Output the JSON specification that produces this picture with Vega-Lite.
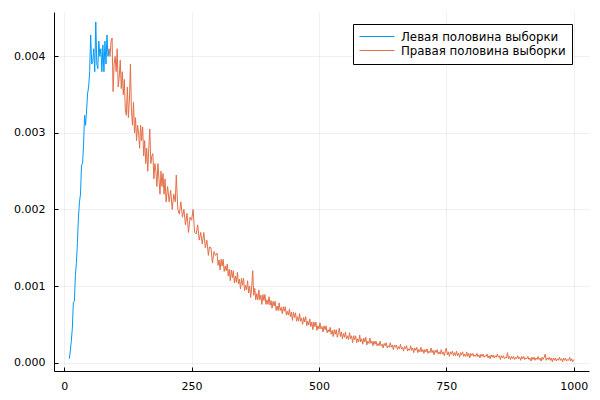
{
  "$schema": "https://vega.github.io/schema/vega-lite/v6.json",
  "autosize": {"type": "none"},
  "width": 535,
  "height": 359,
  "padding": {"left": 54, "top": 12, "right": 11, "bottom": 29},
  "background": "white",
  "config": {
    "view": {"stroke": null},
    "font": "DejaVu Sans",
    "axis": {
      "domainColor": "#000", "domainWidth": 1,
      "tickColor": "#000", "tickSize": -4, "tickWidth": 1,
      "gridColor": "#000", "gridOpacity": 0.1, "gridWidth": 0.6,
      "labelFont": "DejaVu Sans", "labelFontSize": 11, "labelColor": "#000",
      "labelPadding": 13, "title": null
    }
  },
  "datasets": {
    "left": [
      {"x":10,"y":0.00005},{"x":12,"y":0.00015},{"x":14,"y":0.00028},{"x":16,"y":0.00045},{"x":18,"y":0.00079},{"x":20,"y":0.0008},
      {"x":22,"y":0.00114},{"x":24,"y":0.00131},{"x":26,"y":0.00157},{"x":28,"y":0.0019},{"x":30,"y":0.0021},{"x":32,"y":0.0022},
      {"x":34,"y":0.00258},{"x":36,"y":0.0026},{"x":38,"y":0.00284},{"x":40,"y":0.00323},{"x":42,"y":0.0031},{"x":44,"y":0.0033},
      {"x":46,"y":0.00352},{"x":48,"y":0.0036},{"x":50,"y":0.0038},{"x":52,"y":0.00428},{"x":54,"y":0.0039},{"x":56,"y":0.00393},
      {"x":58,"y":0.0041},{"x":60,"y":0.0038},{"x":62,"y":0.00445},{"x":64,"y":0.0039},{"x":66,"y":0.00384},{"x":68,"y":0.0042},
      {"x":70,"y":0.004},{"x":72,"y":0.0041},{"x":74,"y":0.0038},{"x":76,"y":0.00415},{"x":78,"y":0.0038},{"x":80,"y":0.0042},
      {"x":82,"y":0.0039},{"x":84,"y":0.00428},{"x":86,"y":0.004},{"x":88,"y":0.0041}
    ],
    "right": [
      {"x":88,"y":0.0041},{"x":90,"y":0.004},{"x":92,"y":0.0042},{"x":94,"y":0.00424},{"x":96,"y":0.00354},{"x":98,"y":0.0039},
      {"x":100,"y":0.004},{"x":102,"y":0.0038},{"x":104,"y":0.0041},{"x":106,"y":0.0036},{"x":108,"y":0.00373},{"x":110,"y":0.00395},
      {"x":112,"y":0.00358},{"x":114,"y":0.0038},{"x":116,"y":0.0035},{"x":118,"y":0.0037},{"x":120,"y":0.0033},{"x":122,"y":0.00323},
      {"x":124,"y":0.0036},{"x":126,"y":0.0032},{"x":128,"y":0.00343},{"x":130,"y":0.0039},{"x":132,"y":0.0033},{"x":134,"y":0.0031},
      {"x":136,"y":0.0034},{"x":138,"y":0.003},{"x":140,"y":0.0032},{"x":142,"y":0.0029},{"x":144,"y":0.0031},{"x":146,"y":0.003},
      {"x":148,"y":0.0028},{"x":150,"y":0.0031},{"x":152,"y":0.0029},{"x":154,"y":0.00308},{"x":156,"y":0.0027},{"x":158,"y":0.0029},
      {"x":160,"y":0.0026},{"x":162,"y":0.0028},{"x":164,"y":0.0025},{"x":166,"y":0.0028},{"x":168,"y":0.00305},{"x":170,"y":0.0026},
      {"x":172,"y":0.0027},{"x":174,"y":0.00273},{"x":176,"y":0.0024},{"x":178,"y":0.0026},{"x":180,"y":0.0025},{"x":182,"y":0.0023},
      {"x":184,"y":0.0026},{"x":186,"y":0.0024},{"x":188,"y":0.0022},{"x":190,"y":0.0025},{"x":192,"y":0.0023},{"x":194,"y":0.00247},
      {"x":196,"y":0.0022},{"x":198,"y":0.0024},{"x":200,"y":0.0021},{"x":203,"y":0.0023},{"x":206,"y":0.0021},{"x":209,"y":0.00225},
      {"x":212,"y":0.002},{"x":215,"y":0.0022},{"x":218,"y":0.0021},{"x":220,"y":0.00245},{"x":223,"y":0.002},{"x":226,"y":0.00194},
      {"x":229,"y":0.0021},{"x":232,"y":0.0019},{"x":235,"y":0.002},{"x":238,"y":0.0018},{"x":241,"y":0.00195},{"x":244,"y":0.0017},
      {"x":247,"y":0.0019},{"x":250,"y":0.00186},{"x":253,"y":0.002},{"x":256,"y":0.0017},{"x":259,"y":0.00168},{"x":262,"y":0.0018},
      {"x":265,"y":0.0016},{"x":268,"y":0.0017},{"x":271,"y":0.00155},{"x":274,"y":0.0017},{"x":277,"y":0.0015},{"x":280,"y":0.0016},
      {"x":283,"y":0.0014},{"x":285,"y":0.00151},{"x":288,"y":0.0015},{"x":291,"y":0.0013},{"x":294,"y":0.00145},{"x":297,"y":0.0014},
      {"x":300,"y":0.00143},{"x":302,"y":0.00127},{"x":304,"y":0.00134},{"x":306,"y":0.00121},{"x":308,"y":0.00135},{"x":310,"y":0.00126},
      {"x":312,"y":0.00135},{"x":314,"y":0.00119},{"x":316,"y":0.00126},{"x":318,"y":0.0012},{"x":320,"y":0.00129},{"x":322,"y":0.00113},
      {"x":324,"y":0.00122},{"x":326,"y":0.00107},{"x":328,"y":0.00121},{"x":330,"y":0.00111},{"x":332,"y":0.0012},{"x":334,"y":0.00104},
      {"x":336,"y":0.00113},{"x":338,"y":0.00105},{"x":340,"y":0.00118},{"x":342,"y":0.00103},{"x":344,"y":0.00109},{"x":346,"y":0.00096},
      {"x":348,"y":0.0011},{"x":350,"y":0.00101},{"x":352,"y":0.0011},{"x":354,"y":0.00094},{"x":356,"y":0.00101},{"x":358,"y":0.00095},
      {"x":360,"y":0.00107},{"x":362,"y":0.00091},{"x":364,"y":0.001},{"x":366,"y":0.00085},{"x":368,"y":0.00099},{"x":370,"y":0.0012},
      {"x":372,"y":0.00088},{"x":374,"y":0.00097},{"x":376,"y":0.00082},{"x":378,"y":0.0009},{"x":380,"y":0.00082},{"x":382,"y":0.00095},
      {"x":384,"y":0.00082},{"x":386,"y":0.00088},{"x":388,"y":0.00076},{"x":390,"y":0.00089},{"x":392,"y":0.00081},{"x":394,"y":0.00089},
      {"x":396,"y":0.00076},{"x":398,"y":0.00082},{"x":400,"y":0.00076},{"x":402,"y":0.00086},{"x":404,"y":0.00075},{"x":406,"y":0.00081},
      {"x":408,"y":0.00071},{"x":410,"y":0.0008},{"x":412,"y":0.00074},{"x":414,"y":0.0008},{"x":416,"y":0.00068},{"x":418,"y":0.00074},
      {"x":420,"y":0.00068},{"x":422,"y":0.00078},{"x":424,"y":0.00068},{"x":426,"y":0.00072},{"x":428,"y":0.00064},{"x":430,"y":0.00073},
      {"x":432,"y":0.00067},{"x":434,"y":0.00073},{"x":436,"y":0.00062},{"x":438,"y":0.00067},{"x":440,"y":0.00062},{"x":442,"y":0.0007},
      {"x":444,"y":0.0006},{"x":446,"y":0.00066},{"x":448,"y":0.00055},{"x":450,"y":0.00066},{"x":452,"y":0.00059},{"x":454,"y":0.00065},
      {"x":456,"y":0.00054},{"x":458,"y":0.0006},{"x":460,"y":0.00054},{"x":462,"y":0.00064},{"x":464,"y":0.00054},{"x":466,"y":0.00058},
      {"x":468,"y":0.0005},{"x":470,"y":0.00059},{"x":472,"y":0.00053},{"x":474,"y":0.0006},{"x":476,"y":0.00048},{"x":478,"y":0.00054},
      {"x":480,"y":0.00049},{"x":482,"y":0.00057},{"x":484,"y":0.00047},{"x":486,"y":0.00053},{"x":488,"y":0.00043},{"x":490,"y":0.00053},
      {"x":492,"y":0.00047},{"x":494,"y":0.00053},{"x":496,"y":0.00042},{"x":498,"y":0.00048},{"x":500,"y":0.00044},{"x":502,"y":0.00052},
      {"x":504,"y":0.00044},{"x":506,"y":0.00047},{"x":508,"y":0.0004},{"x":510,"y":0.00048},{"x":512,"y":0.00043},{"x":514,"y":0.00048},
      {"x":516,"y":0.00039},{"x":518,"y":0.00043},{"x":520,"y":0.0004},{"x":522,"y":0.00046},{"x":524,"y":0.00037},{"x":526,"y":0.00042},
      {"x":528,"y":0.00034},{"x":530,"y":0.00043},{"x":532,"y":0.00037},{"x":534,"y":0.00043},{"x":536,"y":0.00033},{"x":538,"y":0.00039},
      {"x":540,"y":0.00045},{"x":542,"y":0.00034},{"x":544,"y":0.0004},{"x":546,"y":0.00031},{"x":548,"y":0.00038},{"x":550,"y":0.00033},
      {"x":552,"y":0.0004},{"x":554,"y":0.00031},{"x":556,"y":0.00035},{"x":558,"y":0.0003},{"x":560,"y":0.00039},{"x":562,"y":0.00031},
      {"x":564,"y":0.00035},{"x":566,"y":0.00026},{"x":568,"y":0.00035},{"x":570,"y":0.0003},{"x":572,"y":0.00035},{"x":574,"y":0.00026},
      {"x":576,"y":0.00031},{"x":578,"y":0.00027},{"x":580,"y":0.00036},{"x":582,"y":0.00027},{"x":584,"y":0.00031},{"x":586,"y":0.00024},
      {"x":588,"y":0.00032},{"x":590,"y":0.00027},{"x":592,"y":0.00033},{"x":594,"y":0.00023},{"x":596,"y":0.00028},{"x":598,"y":0.00025},
      {"x":600,"y":0.00032},{"x":602,"y":0.00025},{"x":604,"y":0.00028},{"x":606,"y":0.00022},{"x":608,"y":0.00028},{"x":610,"y":0.00024},
      {"x":612,"y":0.00028},{"x":614,"y":0.00022},{"x":616,"y":0.00025},{"x":618,"y":0.00022},{"x":620,"y":0.00028},{"x":622,"y":0.00022},
      {"x":624,"y":0.00024},{"x":626,"y":0.00019},{"x":628,"y":0.00025},{"x":630,"y":0.00022},{"x":632,"y":0.00026},{"x":634,"y":0.00019},
      {"x":636,"y":0.00022},{"x":638,"y":0.0002},{"x":640,"y":0.00026},{"x":642,"y":0.0002},{"x":644,"y":0.00023},{"x":646,"y":0.00017},
      {"x":648,"y":0.00023},{"x":650,"y":0.0002},{"x":652,"y":0.00023},{"x":654,"y":0.00017},{"x":656,"y":0.00021},{"x":658,"y":0.00018},
      {"x":660,"y":0.00024},{"x":662,"y":0.00018},{"x":664,"y":0.0002},{"x":666,"y":0.00015},{"x":668,"y":0.00021},{"x":670,"y":0.00018},
      {"x":672,"y":0.00022},{"x":674,"y":0.00015},{"x":676,"y":0.00018},{"x":678,"y":0.00016},{"x":680,"y":0.00022},{"x":682,"y":0.00016},
      {"x":684,"y":0.00019},{"x":686,"y":0.00013},{"x":688,"y":0.00019},{"x":690,"y":0.00016},{"x":692,"y":0.0002},{"x":694,"y":0.00013},
      {"x":696,"y":0.00017},{"x":698,"y":0.00014},{"x":700,"y":0.0002},{"x":702,"y":0.00014},{"x":704,"y":0.00017},{"x":706,"y":0.00012},
      {"x":708,"y":0.00017},{"x":710,"y":0.00014},{"x":712,"y":0.00018},{"x":714,"y":0.00012},{"x":716,"y":0.00015},{"x":718,"y":0.00013},
      {"x":720,"y":0.00019},{"x":722,"y":0.00013},{"x":724,"y":0.00016},{"x":726,"y":0.0001},{"x":728,"y":0.00016},{"x":730,"y":0.00013},
      {"x":732,"y":0.00017},{"x":734,"y":0.00011},{"x":736,"y":0.00014},{"x":738,"y":0.00011},{"x":740,"y":0.00017},{"x":742,"y":0.00011},
      {"x":744,"y":0.00014},{"x":746,"y":0.00009},{"x":748,"y":0.00015},{"x":750,"y":0.00019},{"x":752,"y":0.0001},{"x":754,"y":0.00014},
      {"x":756,"y":0.00008},{"x":758,"y":0.00014},{"x":760,"y":0.00011},{"x":762,"y":0.00015},{"x":764,"y":0.00009},{"x":766,"y":0.00013},
      {"x":768,"y":0.00009},{"x":770,"y":0.00015},{"x":772,"y":0.00009},{"x":774,"y":0.00012},{"x":776,"y":0.00007},{"x":778,"y":0.00013},
      {"x":780,"y":0.0001},{"x":782,"y":0.00014},{"x":784,"y":0.00008},{"x":786,"y":0.00011},{"x":788,"y":0.00008},{"x":790,"y":0.00014},
      {"x":792,"y":0.00008},{"x":794,"y":0.00012},{"x":796,"y":0.00006},{"x":798,"y":0.00012},{"x":800,"y":0.00009},{"x":802,"y":0.00012},
      {"x":804,"y":0.00008},{"x":806,"y":0.0001},{"x":808,"y":0.00008},{"x":810,"y":0.00012},{"x":812,"y":0.00008},{"x":814,"y":0.0001},
      {"x":816,"y":0.00006},{"x":818,"y":0.00011},{"x":820,"y":0.00008},{"x":822,"y":0.00011},{"x":824,"y":0.00007},{"x":826,"y":0.00009},
      {"x":828,"y":0.00008},{"x":830,"y":0.00011},{"x":832,"y":0.00006},{"x":834,"y":0.00009},{"x":836,"y":0.00005},{"x":838,"y":0.0001},
      {"x":840,"y":0.00007},{"x":842,"y":0.0001},{"x":844,"y":0.00006},{"x":846,"y":0.00009},{"x":848,"y":0.00007},{"x":850,"y":0.00011},
      {"x":852,"y":0.00007},{"x":854,"y":0.00009},{"x":856,"y":0.00004},{"x":858,"y":0.00009},{"x":860,"y":0.00006},{"x":862,"y":0.00009},
      {"x":864,"y":0.00005},{"x":866,"y":0.00007},{"x":868,"y":0.00006},{"x":870,"y":0.00013},{"x":872,"y":0.00005},{"x":874,"y":0.00008},
      {"x":876,"y":0.00004},{"x":878,"y":0.00008},{"x":880,"y":0.00005},{"x":882,"y":0.00008},{"x":884,"y":0.00004},{"x":886,"y":0.00007},
      {"x":888,"y":0.00005},{"x":890,"y":0.00009},{"x":892,"y":0.00005},{"x":894,"y":0.00007},{"x":896,"y":0.00003},{"x":898,"y":0.00008},
      {"x":900,"y":0.00005},{"x":902,"y":0.00008},{"x":904,"y":0.00004},{"x":906,"y":0.00006},{"x":908,"y":0.00005},{"x":910,"y":0.00008},
      {"x":912,"y":0.00004},{"x":914,"y":0.00006},{"x":916,"y":0.00002},{"x":918,"y":0.00007},{"x":920,"y":0.00004},{"x":922,"y":0.00007},
      {"x":924,"y":0.00003},{"x":926,"y":0.00006},{"x":928,"y":0.00004},{"x":930,"y":0.00008},{"x":932,"y":0.00004},{"x":934,"y":0.00006},
      {"x":936,"y":0.00002},{"x":938,"y":0.00007},{"x":940,"y":0.00004},{"x":942,"y":0.00007},{"x":944,"y":0.00011},{"x":946,"y":0.00003},
      {"x":948,"y":0.00006},{"x":950,"y":0.00004},{"x":952,"y":0.00007},{"x":954,"y":0.00003},{"x":956,"y":0.00006},{"x":958,"y":0.00001},
      {"x":960,"y":0.00006},{"x":962,"y":0.00003},{"x":964,"y":0.00006},{"x":966,"y":0.00002},{"x":968,"y":0.00005},{"x":970,"y":0.00003},
      {"x":972,"y":0.00007},{"x":974,"y":0.00003},{"x":976,"y":0.00005},{"x":978,"y":0.00001},{"x":980,"y":0.00006},{"x":982,"y":0.00003},
      {"x":984,"y":0.00006},{"x":986,"y":0.00002},{"x":988,"y":0.00004},{"x":990,"y":0.00003},{"x":992,"y":0.00007},{"x":994,"y":0.00002},
      {"x":996,"y":0.00005},{"x":998,"y":0.00001},{"x":1000,"y":0.00004}
    ]
  },
  "encoding": {
    "x": {"field": "x", "type": "quantitative",
      "scale": {"domain": [-20, 1030], "nice": false, "zero": false},
      "axis": {"values": [0, 250, 500, 750, 1000], "format": "d"}},
    "y": {"field": "y", "type": "quantitative",
      "scale": {"domain": [-0.00011, 0.00458], "nice": false, "zero": false},
      "axis": {"values": [0, 0.001, 0.002, 0.003, 0.004], "format": ".3f"}}
  },
  "layer": [
    {
      "data": {"name": "left"},
      "mark": {"type": "line", "strokeWidth": 1, "clip": true},
      "encoding": {
        "color": {"datum": "Левая половина выборки", "type": "nominal",
          "scale": {"domain": ["Левая половина выборки", "Правая половина выборки"], "range": ["#009AFA", "#E36F47"]},
          "legend": {
            "title": null, "orient": "none", "legendX": 299, "legendY": 12,
            "strokeColor": "#000", "fillColor": "#fff", "padding": 6,
            "symbolType": "stroke", "symbolSize": 1225, "symbolStrokeWidth": 1,
            "clipHeight": 13, "rowPadding": 0, "labelOffset": 6, "labelLimit": 300,
            "labelFont": "DejaVu Sans", "labelFontSize": 11.8, "labelColor": "#000"
          }}
      }
    },
    {
      "data": {"name": "right"},
      "mark": {"type": "line", "strokeWidth": 1, "clip": true},
      "encoding": {
        "color": {"datum": "Правая половина выборки", "type": "nominal"}
      }
    }
  ]
}
